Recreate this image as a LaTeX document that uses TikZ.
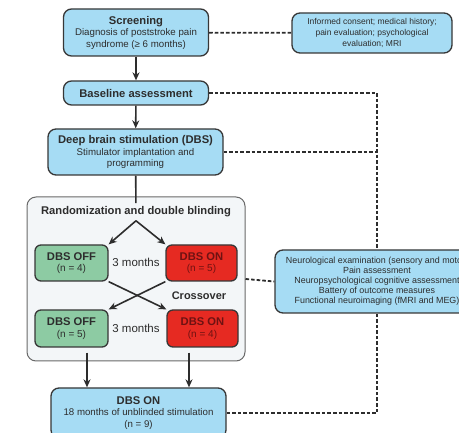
\documentclass[tikz,border=0pt]{standalone}
\usepackage{fontspec}
\setmainfont{Liberation Sans}
\usetikzlibrary{arrows.meta, positioning, calc}
\definecolor{skyfill}{RGB}{166,220,244}
\definecolor{offfill}{RGB}{141,203,163}
\definecolor{onfill}{RGB}{230,42,34}
\definecolor{ontxt}{RGB}{110,18,18}
\definecolor{randfill}{RGB}{243,246,248}
\definecolor{boxline}{RGB}{55,55,55}
\definecolor{txt}{RGB}{45,45,45}
\newcommand{\boxtitle}[1]{{\fontsize{11.2}{12.5}\selectfont\bfseries #1}}

\begin{document}
\begin{tikzpicture}[x=1pt, y=-1pt,
    stage/.style={rectangle, rounded corners=8pt, draw=boxline, fill=skyfill, line width=1.3pt, align=center, text=txt, inner sep=1pt, font=\fontsize{9.7}{11.5}\selectfont},
    armoff/.style={rectangle, rounded corners=6pt, draw=boxline, fill=offfill, line width=1.3pt, align=center, text=txt, inner sep=1pt, minimum width=73, minimum height=36, font=\fontsize{10}{11.5}\selectfont},
    armon/.style={armoff, fill=onfill, text=ontxt},
    flow/.style={-{Stealth[length=8pt,width=7pt]}, line width=1.6pt, draw=txt},
    link/.style={line width=1.8pt, draw=txt, dash pattern=on 3.6pt off 2pt},
    font=\fontsize{9.7}{11.5}\selectfont]
\path[use as bounding box, clip] (0,0) rectangle (459,433);
\node[rectangle, rounded corners=9pt, draw=boxline!75, fill=randfill, line width=1pt, minimum width=218, minimum height=164] (rand) at (136,279) {};
\node[stage, minimum width=145, minimum height=47] (screen) at (136,32.5) {\boxtitle{Screening}\\Diagnosis of poststroke pain\\syndrome (≥ 6 months)};
\node[stage, minimum width=160, minimum height=40, font=\fontsize{8.5}{10.8}\selectfont] (consent) at (372,33) {Informed consent; medical history;\\pain evaluation; psychological\\evaluation; MRI};
\node[stage, minimum width=145, minimum height=24] (base) at (136,93) {\boxtitle{Baseline assessment}};
\node[stage, minimum width=175, minimum height=46] (dbs) at (135.5,152) {\boxtitle{Deep brain stimulation (DBS)}\\Stimulator implantation and\\programming};
\node[text=txt, font=\fontsize{11.2}{12.5}\selectfont\bfseries] (title) at (136,212) {Randomization and double blinding};
\node[armoff] (off1) at (71.5,263) {\boxtitle{DBS OFF}\\(n = 4)};
\node[armon, minimum width=71] (on1) at (201.5,263) {\boxtitle{DBS ON}\\(n = 5)};
\node[armoff, minimum height=37] (off2) at (71.5,328.5) {\boxtitle{DBS OFF}\\(n = 5)};
\node[armon, minimum width=71, minimum height=37] (on2) at (202.5,328.5) {\boxtitle{DBS ON}\\(n = 4)};
\node[text=txt, font=\fontsize{11.5}{12.5}\selectfont] (gap1) at (136,262) {3 months};
\node[text=txt, font=\fontsize{11.5}{12.5}\selectfont] (gap2) at (136,328) {3 months};
\node[text=txt, font=\fontsize{11}{12.5}\selectfont\bfseries] (cross) at (199,296) {Crossover};
\node[stage, minimum width=175, minimum height=50] (final) at (138.5,413) {\boxtitle{DBS ON}\\18 months of unblinded stimulation\\(n = 9)};
\node[stage, minimum width=204, minimum height=63, font=\fontsize{8.9}{10}\selectfont] (neuro) at (377,281.5) {Neurological examination (sensory and motor)\\Pain assessment\\Neuropsychological cognitive assessment\\Battery of outcome measures\\Functional neuroimaging (fMRI and MEG)};
% main flow
\draw[flow] (screen) -- (base);
\draw[flow] (base) -- (dbs);
\draw[line width=1.6pt, draw=txt] (dbs) -- (title);
\draw[flow] (title.south) -- (off1.north east);
\draw[flow] (title.south) -- (on1.north west);
\draw[flow] (off1.south east) -- (on2.north west);
\draw[flow] (on1.south west) -- (off2.north east);
\draw[flow] ([xshift=15.5pt, yshift=-5pt]off2.south) -- ([xshift=15.5pt]off2.south |- final.north);
\draw[flow] ([xshift=-13.5pt, yshift=-5pt]on2.south) -- ([xshift=-13.5pt]on2.south |- final.north);
% assessments
\draw[link] (screen) -- (consent);
\draw[link] (base.east) -| (neuro.north);
\draw[link] (dbs.east) -- (dbs.east -| neuro.north);
\draw[link] (rand.east) -- (neuro.west);
\draw[link] (final.east) -| (neuro.south);
\end{tikzpicture}
\end{document}
